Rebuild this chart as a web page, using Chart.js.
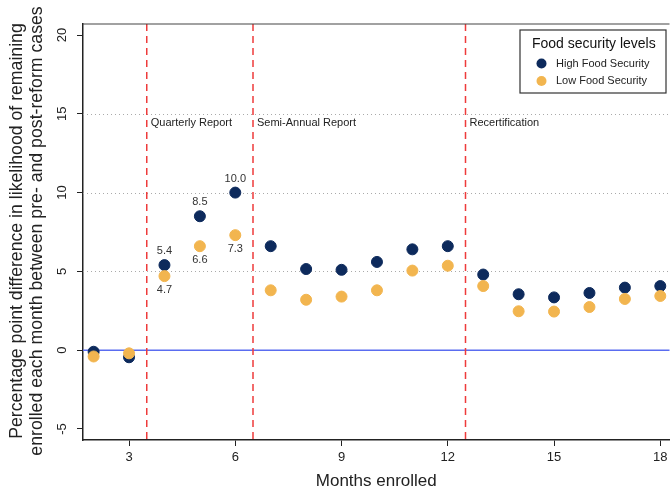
<!DOCTYPE html>
<html>
<head>
<meta charset="utf-8">
<script src="https://cdn.jsdelivr.net/npm/chart.js@4.4.0/dist/chart.umd.min.js"></script>
<style>
  html, body { margin: 0; padding: 0; background: #fff; overflow: hidden; }
  #wrap { width: 676px; height: 492px; }
</style>
</head>
<body>
<div id="wrap"><canvas id="chart"></canvas></div>
<script>
// Months enrolled and percentage point differences per food security group
const months = [2, 3, 4, 5, 6, 7, 8, 9, 10, 11, 12, 13, 14, 15, 16, 17, 18];
const highFood = [-0.1, -0.45, 5.4, 8.5, 10.0, 6.6, 5.15, 5.1, 5.6, 6.4, 6.6, 4.8, 3.55, 3.35, 3.63, 3.97, 4.07];
const lowFood = [-0.4, -0.2, 4.7, 6.6, 7.3, 3.8, 3.2, 3.4, 3.8, 5.05, 5.36, 4.07, 2.47, 2.45, 2.74, 3.25, 3.44];
const labelledMonths = [4, 5, 6];

const xTicks = [3, 6, 9, 12, 15, 18];
const yTicks = [-5, 0, 5, 10, 15, 20];
const yGrid = [5, 10, 15];

// Reporting requirement changes
const breaks = [3.5, 6.5, 12.5];
const breakLabels = ['Quarterly Report', 'Semi-Annual Report', 'Recertification'];

const yTitle = ['Percentage point difference in likelihood of remaining', 'enrolled each month between pre- and post-reform cases'];

const NAVY = '#0d2a5c';
const GOLD = '#f2b54f';
const FONT = '"Liberation Sans", Arial, sans-serif';

function toPoints(values) {
    return months.map((m, i) => ({ x: m, y: values[i] }));
}

// Grid, reference lines, period labels, value labels, y axis text and legend box
const overlay = {
    id: 'overlay',
    beforeDatasetsDraw(chart) {
        const { ctx, chartArea: a, scales: { x, y } } = chart;
        ctx.save();
        // dotted grid
        ctx.strokeStyle = '#aaa';
        ctx.lineWidth = 1;
        ctx.setLineDash([1, 3]);
        yGrid.forEach(v => {
            const py = Math.round(y.getPixelForValue(v)) + 0.5;
            ctx.beginPath();
            ctx.moveTo(a.left, py);
            ctx.lineTo(a.right, py);
            ctx.stroke();
        });
        ctx.setLineDash([]);
        // zero line
        const y0 = y.getPixelForValue(0);
        ctx.strokeStyle = '#5a6cf0';
        ctx.lineWidth = 1.5;
        ctx.beginPath();
        ctx.moveTo(a.left, y0);
        ctx.lineTo(a.right, y0);
        ctx.stroke();
        // dashed period breaks
        ctx.strokeStyle = '#ee3b3b';
        ctx.lineWidth = 1.5;
        ctx.setLineDash([7, 5]);
        breaks.forEach(b => {
            const px = x.getPixelForValue(b);
            ctx.beginPath();
            ctx.moveTo(px, a.top);
            ctx.lineTo(px, a.bottom);
            ctx.stroke();
        });
        ctx.setLineDash([]);
        ctx.fillStyle = '#222';
        ctx.font = '11px ' + FONT;
        ctx.textBaseline = 'middle';
        ctx.textAlign = 'left';
        breaks.forEach((b, i) => {
            ctx.fillText(breakLabels[i], x.getPixelForValue(b) + 4, y.getPixelForValue(14.4));
        });
        // top frame line
        ctx.strokeStyle = '#444';
        ctx.lineWidth = 1.2;
        ctx.beginPath();
        ctx.moveTo(a.left, a.top);
        ctx.lineTo(a.right, a.top);
        ctx.stroke();
        ctx.restore();
    },
    afterDraw(chart) {
        const { ctx, chartArea: a, scales: { x, y } } = chart;
        ctx.save();
        ctx.fillStyle = '#333';
        ctx.font = '11px ' + FONT;
        ctx.textAlign = 'center';
        ctx.textBaseline = 'middle';
        labelledMonths.forEach(m => {
            const i = months.indexOf(m);
            const px = x.getPixelForValue(m);
            ctx.fillText(highFood[i].toFixed(1), px, y.getPixelForValue(highFood[i]) - 14);
            ctx.fillText(lowFood[i].toFixed(1), px, y.getPixelForValue(lowFood[i]) + 14);
        });
        // rotated y tick labels
        ctx.fillStyle = '#222';
        ctx.font = '13px ' + FONT;
        yTicks.forEach(v => {
            ctx.save();
            ctx.translate(a.left - 21, y.getPixelForValue(v));
            ctx.rotate(-Math.PI / 2);
            ctx.fillText(String(v), 0, 0);
            ctx.restore();
        });
        // y axis title, two lines
        ctx.font = '17.7px ' + FONT;
        const midY = (a.top + a.bottom) / 2 - 1;
        yTitle.forEach((line, i) => {
            ctx.save();
            ctx.translate(17 + i * 20, midY);
            ctx.rotate(-Math.PI / 2);
            ctx.fillText(line, 0, 0);
            ctx.restore();
        });
        // legend
        const lx = 520, ly = 30, lw = 146, lh = 63;
        ctx.fillStyle = '#fff';
        ctx.fillRect(lx, ly, lw, lh);
        ctx.strokeStyle = '#333';
        ctx.lineWidth = 1.2;
        ctx.strokeRect(lx, ly, lw, lh);
        ctx.fillStyle = '#111';
        ctx.textAlign = 'left';
        ctx.font = '14px ' + FONT;
        ctx.fillText('Food security levels', lx + 12, ly + 14);
        ctx.font = '11px ' + FONT;
        chart.data.datasets.forEach((ds, i) => {
            const cy = ly + 33.5 + i * 17.5;
            ctx.fillStyle = ds.backgroundColor;
            ctx.beginPath();
            ctx.arc(lx + 21.5, cy, 5, 0, Math.PI * 2);
            ctx.fill();
            ctx.fillStyle = '#222';
            ctx.fillText(ds.label, lx + 36, cy);
        });
        ctx.restore();
    }
};

new Chart(document.getElementById('chart'), {
    type: 'scatter',
    data: {
        datasets: [
            { label: 'High Food Security', data: toPoints(highFood), backgroundColor: NAVY, borderColor: NAVY, pointRadius: 5.5, pointHoverRadius: 5.5, order: 1 },
            { label: 'Low Food Security', data: toPoints(lowFood), backgroundColor: GOLD, borderColor: GOLD, pointRadius: 5.5, pointHoverRadius: 5.5, order: 0 }
        ]
    },
    options: {
        responsive: true,
        maintainAspectRatio: false,
        animation: false,
        layout: { padding: { top: 24, right: 0, left: 0, bottom: 0 } },
        plugins: { legend: { display: false }, tooltip: { enabled: false } },
        scales: {
            x: {
                type: 'linear',
                min: 1.7,
                max: 18.26,
                afterBuildTicks: s => { s.ticks = xTicks.map(v => ({ value: v })); },
                afterFit: s => { s.height = 52; },
                grid: { display: true, drawOnChartArea: false, tickLength: 6, tickColor: '#222' },
                border: { color: '#222', width: 1.5 },
                ticks: { color: '#222', font: { size: 13, family: FONT }, padding: 4, maxRotation: 0 },
                title: { display: true, text: 'Months enrolled', color: '#222', font: { size: 17, family: FONT }, padding: { top: 3, bottom: 0 } }
            },
            y: {
                min: -5.7,
                max: 20.7,
                afterBuildTicks: s => { s.ticks = yTicks.map(v => ({ value: v })); },
                afterFit: s => { s.width = 83; },
                grid: { display: true, drawOnChartArea: false, tickLength: 6, tickColor: '#222' },
                border: { color: '#222', width: 1.5 },
                ticks: { display: false }
            }
        }
    },
    plugins: [overlay]
});
</script>
</body>
</html>
